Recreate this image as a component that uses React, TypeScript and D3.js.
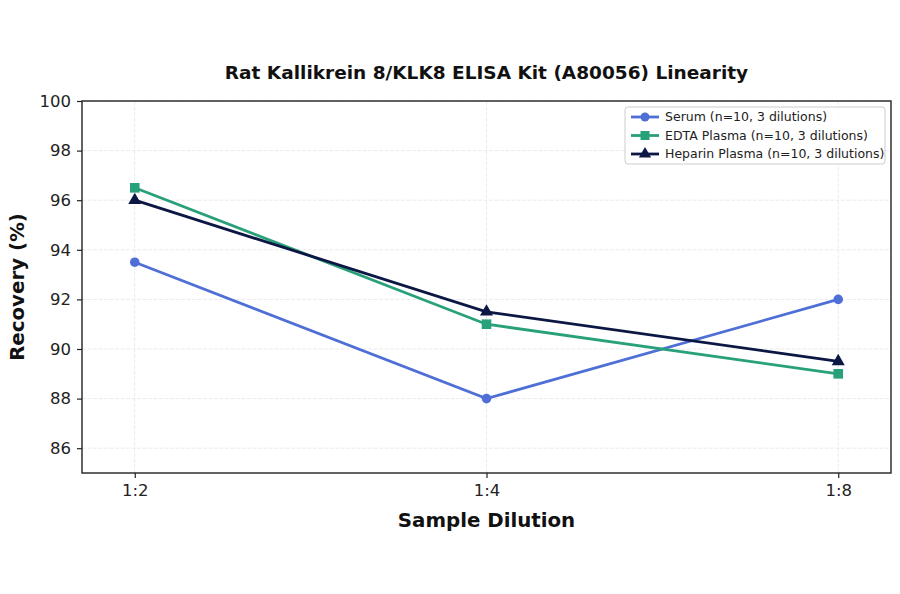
import * as d3 from "d3";
import { useEffect, useRef } from "react";

const dilutions = ["1:2", "1:4", "1:8"];
const serum = [93.5, 88, 92];
const edtaPlasma = [96.5, 91, 89];
const heparinPlasma = [96, 91.5, 89.5];
const yTicks = [86, 88, 90, 92, 94, 96, 98, 100];

const seriesList = [
  { name: "Serum (n=10, 3 dilutions)", values: serum, color: "#4f6fd7", marker: "circle" },
  { name: "EDTA Plasma (n=10, 3 dilutions)", values: edtaPlasma, color: "#28a17a", marker: "square" },
  { name: "Heparin Plasma (n=10, 3 dilutions)", values: heparinPlasma, color: "#0c1744", marker: "triangle" },
];

const App = () => {
  const ref = useRef<SVGSVGElement | null>(null);

  useEffect(() => {
    const width = 900;
    const height = 594;
    const margin = { top: 101, right: 9, bottom: 121, left: 82 };
    const font = "DejaVu Sans, sans-serif";

    const svg = d3.select(ref.current);
    svg.selectAll("*").remove();
    svg.attr("width", width).attr("height", height);
    svg.append("rect").attr("width", width).attr("height", height).attr("fill", "#fff");

    const x = d3
      .scaleLinear()
      .domain([-0.15, 2.15])
      .range([margin.left, width - margin.right]);
    const y = d3
      .scaleLinear()
      .domain([85, 100])
      .range([height - margin.bottom, margin.top]);

    const g = svg.append("g");

    // grid
    g.selectAll("line.hgrid")
      .data(yTicks)
      .enter()
      .append("line")
      .attr("x1", margin.left)
      .attr("x2", width - margin.right)
      .attr("y1", (d) => y(d))
      .attr("y2", (d) => y(d))
      .attr("stroke", "#e6e6e6")
      .attr("stroke-dasharray", "4,1.5")
      .attr("stroke-width", 0.8);
    g.selectAll("line.vgrid")
      .data(dilutions)
      .enter()
      .append("line")
      .attr("x1", (_, i) => x(i))
      .attr("x2", (_, i) => x(i))
      .attr("y1", margin.top)
      .attr("y2", height - margin.bottom)
      .attr("stroke", "#e6e6e6")
      .attr("stroke-dasharray", "4,1.5")
      .attr("stroke-width", 0.8);

    // axes
    const xAxis = d3
      .axisBottom(x)
      .tickValues([0, 1, 2])
      .tickFormat((d) => dilutions[d as number])
      .tickSize(5)
      .tickPadding(6);
    const yAxis = d3
      .axisLeft(y)
      .tickValues(yTicks)
      .tickFormat(d3.format("d"))
      .tickSize(5)
      .tickPadding(6);

    const xg = g
      .append("g")
      .attr("transform", `translate(0,${height - margin.bottom})`)
      .call(xAxis);
    const yg = g.append("g").attr("transform", `translate(${margin.left},0)`).call(yAxis);
    [xg, yg].forEach((a) => {
      a.select(".domain").remove();
      a.selectAll("text").attr("font-family", font).attr("font-size", 16.5).attr("fill", "#222");
      a.selectAll("line").attr("stroke", "#222").attr("stroke-width", 1.2);
    });

    g.append("rect")
      .attr("x", margin.left)
      .attr("y", margin.top)
      .attr("width", width - margin.left - margin.right)
      .attr("height", height - margin.top - margin.bottom)
      .attr("fill", "none")
      .attr("stroke", "#222")
      .attr("stroke-width", 1.4);

    const drawMarker = (sel: any, marker: string, color: string, size: number) => {
      if (marker === "circle") {
        sel.append("circle").attr("r", size).attr("fill", color);
      } else if (marker === "square") {
        sel
          .append("rect")
          .attr("x", -size)
          .attr("y", -size)
          .attr("width", size * 2)
          .attr("height", size * 2)
          .attr("fill", color);
      } else {
        sel
          .append("path")
          .attr("d", d3.symbol(d3.symbolTriangle, size * size * 3.2)())
          .attr("fill", color);
      }
    };

    const line = d3
      .line<number>()
      .x((_, i) => x(i))
      .y((d) => y(d));

    seriesList.forEach((s) => {
      g.append("path")
        .datum(s.values)
        .attr("d", line)
        .attr("fill", "none")
        .attr("stroke", s.color)
        .attr("stroke-width", 2.8);
      s.values.forEach((v, i) => {
        const m = g.append("g").attr("transform", `translate(${x(i)},${y(v)})`);
        drawMarker(m, s.marker, s.color, 4.8);
      });
    });

    // title and labels
    svg
      .append("text")
      .attr("x", (margin.left + width - margin.right) / 2)
      .attr("y", 79)
      .attr("text-anchor", "middle")
      .attr("font-family", font)
      .attr("font-weight", "bold")
      .attr("font-size", 18.5)
      .attr("fill", "#111")
      .text("Rat Kallikrein 8/KLK8 ELISA Kit (A80056) Linearity");

    svg
      .append("text")
      .attr("x", (margin.left + width - margin.right) / 2)
      .attr("y", 527)
      .attr("text-anchor", "middle")
      .attr("font-family", font)
      .attr("font-weight", "bold")
      .attr("font-size", 19.8)
      .attr("fill", "#111")
      .text("Sample Dilution");

    svg
      .append("text")
      .attr("transform", `translate(24,${(margin.top + height - margin.bottom) / 2}) rotate(-90)`)
      .attr("text-anchor", "middle")
      .attr("font-family", font)
      .attr("font-weight", "bold")
      .attr("font-size", 19.8)
      .attr("fill", "#111")
      .text("Recovery (%)");

    // legend
    const lg = svg.append("g").attr("transform", "translate(625,107)");
    lg.append("rect")
      .attr("width", 260)
      .attr("height", 57)
      .attr("rx", 3)
      .attr("fill", "#fff")
      .attr("fill-opacity", 0.8)
      .attr("stroke", "#ccc");
    seriesList.forEach((s, i) => {
      const row = lg.append("g").attr("transform", `translate(0,${10 + i * 18.5})`);
      row.append("line")
        .attr("x1", 6)
        .attr("x2", 34)
        .attr("stroke", s.color)
        .attr("stroke-width", 2.8);
      const m = row.append("g").attr("transform", "translate(20,0)");
      drawMarker(m, s.marker, s.color, 4.5);
      row.append("text")
        .attr("x", 40)
        .attr("dy", "0.35em")
        .attr("font-family", font)
        .attr("font-size", 12.5)
        .attr("fill", "#222")
        .text(s.name);
    });
  }, []);

  return <svg ref={ref} style={{ display: "block", margin: "-8px" }}></svg>;
};

export default App;
